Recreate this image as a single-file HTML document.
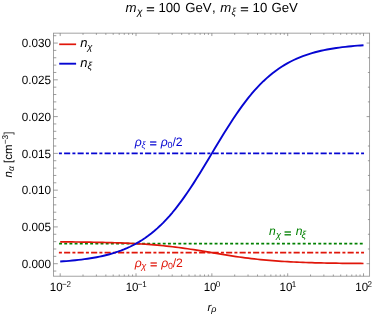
<!DOCTYPE html>
<html><head><meta charset="utf-8"><title>plot</title>
<style>
html,body{margin:0;padding:0;background:#fff;}
svg{display:block;will-change:transform}
text{font-family:"Liberation Sans",sans-serif;font-size:11.5px;fill:#000;text-rendering:geometricPrecision}
.i{font-style:italic}
.sub{font-size:8.6px;font-style:italic}
.sup{font-size:8.4px}
.tl{font-size:12px}
</style></head><body>
<svg width="374" height="316" viewBox="0 0 374 316">
<rect width="374" height="316" fill="#fff"/>
<!-- reference lines -->
<path d="M59.07 243.64 H364.02" stroke="#008000" stroke-width="1.7" stroke-dasharray="2.9 2.285" fill="none"/>
<path d="M58.90 252.67 H364.02" stroke="#e0160a" stroke-width="1.7" stroke-dasharray="3 2.2 6.1 2.2" fill="none"/>
<path d="M58.90 153.38 H364.02" stroke="#0606d2" stroke-width="1.7" stroke-dasharray="3 2.2 6.1 2.2" fill="none"/>
<!-- curves -->
<path d="M60.20 241.85 L63.23 241.87 L66.27 241.90 L69.30 241.92 L72.33 241.95 L75.37 241.98 L78.40 242.01 L81.43 242.05 L84.47 242.09 L87.50 242.13 L90.53 242.18 L93.57 242.23 L96.60 242.28 L99.63 242.34 L102.66 242.41 L105.70 242.48 L108.73 242.56 L111.76 242.64 L114.80 242.74 L117.83 242.84 L120.86 242.94 L123.90 243.06 L126.93 243.19 L129.96 243.33 L133.00 243.48 L136.03 243.64 L139.06 243.82 L142.10 244.00 L145.13 244.20 L148.16 244.42 L151.20 244.65 L154.23 244.90 L157.26 245.17 L160.30 245.45 L163.33 245.75 L166.36 246.06 L169.40 246.40 L172.43 246.75 L175.46 247.12 L178.49 247.51 L181.53 247.92 L184.56 248.34 L187.59 248.78 L190.63 249.23 L193.66 249.69 L196.69 250.17 L199.73 250.66 L202.76 251.15 L205.79 251.65 L208.83 252.16 L211.86 252.67 L214.89 253.18 L217.93 253.68 L220.96 254.18 L223.99 254.68 L227.03 255.16 L230.06 255.64 L233.09 256.11 L236.13 256.56 L239.16 257.00 L242.19 257.42 L245.23 257.82 L248.26 258.21 L251.29 258.58 L254.32 258.94 L257.36 259.27 L260.39 259.59 L263.42 259.89 L266.46 260.17 L269.49 260.43 L272.52 260.68 L275.56 260.91 L278.59 261.13 L281.62 261.33 L284.66 261.52 L287.69 261.69 L290.72 261.86 L293.76 262.01 L296.79 262.14 L299.82 262.27 L302.86 262.39 L305.89 262.50 L308.92 262.60 L311.96 262.69 L314.99 262.78 L318.02 262.86 L321.06 262.93 L324.09 262.99 L327.12 263.05 L330.15 263.11 L333.19 263.16 L336.22 263.21 L339.25 263.25 L342.29 263.29 L345.32 263.32 L348.35 263.36 L351.39 263.39 L354.42 263.41 L357.45 263.44 L360.49 263.46 L363.52 263.48" stroke="#e0160a" stroke-width="1.7" fill="none" stroke-linejoin="round"/>
<path d="M60.20 261.52 L63.23 261.31 L66.27 261.08 L69.30 260.83 L72.33 260.56 L75.37 260.26 L78.40 259.93 L81.43 259.57 L84.47 259.18 L87.50 258.76 L90.53 258.29 L93.57 257.79 L96.60 257.23 L99.63 256.63 L102.66 255.97 L105.70 255.25 L108.73 254.47 L111.76 253.62 L114.80 252.70 L117.83 251.69 L120.86 250.60 L123.90 249.42 L126.93 248.14 L129.96 246.76 L133.00 245.26 L136.03 243.64 L139.06 241.90 L142.10 240.02 L145.13 238.00 L148.16 235.83 L151.20 233.51 L154.23 231.03 L157.26 228.39 L160.30 225.57 L163.33 222.57 L166.36 219.40 L169.40 216.05 L172.43 212.52 L175.46 208.81 L178.49 204.93 L181.53 200.87 L184.56 196.65 L187.59 192.28 L190.63 187.76 L193.66 183.11 L196.69 178.34 L199.73 173.47 L202.76 168.52 L205.79 163.51 L208.83 158.45 L211.86 153.38 L214.89 148.30 L217.93 143.24 L220.96 138.23 L223.99 133.28 L227.03 128.41 L230.06 123.64 L233.09 118.99 L236.13 114.47 L239.16 110.10 L242.19 105.88 L245.23 101.82 L248.26 97.94 L251.29 94.23 L254.32 90.70 L257.36 87.35 L260.39 84.18 L263.42 81.18 L266.46 78.36 L269.49 75.72 L272.52 73.24 L275.56 70.92 L278.59 68.75 L281.62 66.73 L284.66 64.85 L287.69 63.11 L290.72 61.49 L293.76 59.99 L296.79 58.61 L299.82 57.33 L302.86 56.15 L305.89 55.06 L308.92 54.05 L311.96 53.13 L314.99 52.28 L318.02 51.50 L321.06 50.78 L324.09 50.12 L327.12 49.52 L330.15 48.96 L333.19 48.46 L336.22 47.99 L339.25 47.57 L342.29 47.18 L345.32 46.82 L348.35 46.49 L351.39 46.19 L354.42 45.92 L357.45 45.67 L360.49 45.44 L363.52 45.23" stroke="#0606d2" stroke-width="1.9" fill="none" stroke-linejoin="round"/>
<!-- frame -->
<rect x="53.5" y="33.15" width="316.1" height="243.04999999999998" fill="none" stroke="#939393" stroke-width="0.85"/>
<path d="M53.50 271.06 h2.80 M53.50 263.70 h4.30 M369.60 263.70 h-3.00 M53.50 256.34 h2.80 M53.50 248.99 h2.80 M369.60 248.99 h-1.70 M53.50 241.63 h2.80 M53.50 234.28 h2.80 M369.60 234.28 h-1.70 M53.50 226.92 h4.30 M53.50 219.57 h2.80 M369.60 219.57 h-1.70 M53.50 212.21 h2.80 M53.50 204.86 h2.80 M369.60 204.86 h-1.70 M53.50 197.50 h2.80 M53.50 190.15 h4.30 M369.60 190.15 h-3.00 M53.50 182.79 h2.80 M53.50 175.44 h2.80 M369.60 175.44 h-1.70 M53.50 168.08 h2.80 M53.50 160.73 h2.80 M369.60 160.73 h-1.70 M53.50 153.38 h4.30 M53.50 146.02 h2.80 M369.60 146.02 h-1.70 M53.50 138.66 h2.80 M53.50 131.31 h2.80 M369.60 131.31 h-1.70 M53.50 123.95 h2.80 M53.50 116.60 h4.30 M369.60 116.60 h-3.00 M53.50 109.24 h2.80 M53.50 101.89 h2.80 M369.60 101.89 h-1.70 M53.50 94.53 h2.80 M53.50 87.18 h2.80 M369.60 87.18 h-1.70 M53.50 79.82 h4.30 M53.50 72.47 h2.80 M369.60 72.47 h-1.70 M53.50 65.11 h2.80 M53.50 57.76 h2.80 M369.60 57.76 h-1.70 M53.50 50.40 h2.80 M53.50 43.05 h4.30 M369.60 43.05 h-3.00 M53.50 35.69 h2.80 M60.20 276.20 v-2.90 M60.20 33.15 v2.90 M83.03 276.20 v-1.70 M83.03 33.15 v1.70 M96.38 276.20 v-1.70 M96.38 33.15 v1.70 M105.85 276.20 v-1.70 M105.85 33.15 v1.70 M113.20 276.20 v-1.70 M113.20 33.15 v1.70 M119.21 276.20 v-1.70 M119.21 33.15 v1.70 M124.28 276.20 v-1.70 M124.28 33.15 v1.70 M128.68 276.20 v-1.70 M128.68 33.15 v1.70 M132.56 276.20 v-1.70 M132.56 33.15 v1.70 M136.03 276.20 v-2.90 M136.03 33.15 v2.90 M158.86 276.20 v-1.70 M158.86 33.15 v1.70 M172.21 276.20 v-1.70 M172.21 33.15 v1.70 M181.68 276.20 v-1.70 M181.68 33.15 v1.70 M189.03 276.20 v-1.70 M189.03 33.15 v1.70 M195.04 276.20 v-1.70 M195.04 33.15 v1.70 M200.11 276.20 v-1.70 M200.11 33.15 v1.70 M204.51 276.20 v-1.70 M204.51 33.15 v1.70 M208.39 276.20 v-1.70 M208.39 33.15 v1.70 M211.86 276.20 v-2.90 M211.86 33.15 v2.90 M234.69 276.20 v-1.70 M234.69 33.15 v1.70 M248.04 276.20 v-1.70 M248.04 33.15 v1.70 M257.51 276.20 v-1.70 M257.51 33.15 v1.70 M264.86 276.20 v-1.70 M264.86 33.15 v1.70 M270.87 276.20 v-1.70 M270.87 33.15 v1.70 M275.94 276.20 v-1.70 M275.94 33.15 v1.70 M280.34 276.20 v-1.70 M280.34 33.15 v1.70 M284.22 276.20 v-1.70 M284.22 33.15 v1.70 M287.69 276.20 v-2.90 M287.69 33.15 v2.90 M310.52 276.20 v-1.70 M310.52 33.15 v1.70 M323.87 276.20 v-1.70 M323.87 33.15 v1.70 M333.34 276.20 v-1.70 M333.34 33.15 v1.70 M340.69 276.20 v-1.70 M340.69 33.15 v1.70 M346.70 276.20 v-1.70 M346.70 33.15 v1.70 M351.77 276.20 v-1.70 M351.77 33.15 v1.70 M356.17 276.20 v-1.70 M356.17 33.15 v1.70 M360.05 276.20 v-1.70 M360.05 33.15 v1.70 M363.52 276.20 v-2.90 M363.52 33.15 v2.90" stroke="#747474" stroke-width="0.7" fill="none"/>
<!-- legend -->
<path d="M59.2 44.3 H76.1" stroke="#e0160a" stroke-width="1.7"/>
<path d="M59.2 63.7 H76.1" stroke="#0606d2" stroke-width="1.9"/>
<text style="font-size:13px"><tspan x="80.20" y="47.30" class="i">n</tspan><tspan x="87.30" y="50.10" style="font-size:9.4px;font-style:italic">χ</tspan></text><text style="font-size:13px"><tspan x="80.20" y="66.70" class="i">n</tspan><tspan x="87.50" y="69.40" style="font-size:10.2px;font-style:italic">ξ</tspan></text>
<!-- annotations -->
<text style="font-size:12.2px;fill:#0606d2"><tspan x="134.80" y="145.80" class="i">ρ</tspan><tspan x="141.40" y="148.10" style="font-size:9px;font-style:italic">ξ</tspan><tspan x="160.80" y="145.80" class="i">ρ</tspan><tspan x="167.60" y="148.20" style="font-size:8.9px">0</tspan><tspan x="172.40" y="145.80">/</tspan><tspan x="175.70" y="145.80">2</tspan></text><text transform="translate(153.20 146.71) scale(1.040 0.900)" text-anchor="middle" style="font-size:12.2px;stroke-width:0.08px;stroke:#0606d2;fill:#0606d2">=</text>
<text style="font-size:12.2px;fill:#e0160a"><tspan x="134.80" y="266.70" class="i">ρ</tspan><tspan x="141.20" y="269.00" style="font-size:9.3px;font-style:italic">χ</tspan><tspan x="161.20" y="266.70" class="i">ρ</tspan><tspan x="168.00" y="269.10" style="font-size:8.9px">0</tspan><tspan x="172.80" y="266.70">/</tspan><tspan x="176.10" y="266.70">2</tspan></text><text transform="translate(153.60 267.61) scale(1.040 0.900)" text-anchor="middle" style="font-size:12.2px;stroke-width:0.08px;stroke:#e0160a;fill:#e0160a">=</text>
<text style="font-size:12.2px;fill:#008000"><tspan x="269.00" y="235.40" class="i">n</tspan><tspan x="275.90" y="237.90" style="font-size:9.3px;font-style:italic">χ</tspan><tspan x="295.70" y="235.40" class="i">n</tspan><tspan x="301.50" y="238.20" style="font-size:10.2px;font-style:italic">ξ</tspan></text><text transform="translate(287.90 236.86) scale(1.060 0.900)" text-anchor="middle" style="font-size:12.2px;stroke-width:0.08px;stroke:#008000;fill:#008000">=</text>
<!-- title -->
<text style="font-size:13.2px"><tspan x="125.60" y="12.10" class="i">m</tspan><tspan x="137.00" y="14.60" style="font-size:10px;font-style:italic">χ</tspan><tspan x="158.40" y="12.10">100</tspan><tspan x="185.20" y="12.10">GeV</tspan><tspan x="212.10" y="12.10">,</tspan><tspan x="220.20" y="12.10" class="i">m</tspan><tspan x="231.50" y="14.60" style="font-size:10px;font-style:italic">ξ</tspan><tspan x="252.60" y="12.10">10</tspan><tspan x="271.40" y="12.10">GeV</tspan></text><text transform="translate(150.45 13.22) scale(1.100 0.880)" text-anchor="middle" style="font-size:13.2px;stroke-width:0.2px;stroke:#000">=</text><text transform="translate(244.45 13.22) scale(1.100 0.880)" text-anchor="middle" style="font-size:13.2px;stroke-width:0.2px;stroke:#000">=</text>
<!-- tick labels -->
<text transform="translate(51.1 268.00) scale(0.975 1)" text-anchor="end" class="tl">0.000</text>
<text transform="translate(51.1 231.22) scale(0.975 1)" text-anchor="end" class="tl">0.005</text>
<text transform="translate(51.1 194.45) scale(0.975 1)" text-anchor="end" class="tl">0.010</text>
<text transform="translate(51.1 157.68) scale(0.975 1)" text-anchor="end" class="tl">0.015</text>
<text transform="translate(51.1 120.90) scale(0.975 1)" text-anchor="end" class="tl">0.020</text>
<text transform="translate(51.1 84.12) scale(0.975 1)" text-anchor="end" class="tl">0.025</text>
<text transform="translate(51.1 47.35) scale(0.975 1)" text-anchor="end" class="tl">0.030</text>
<text transform="translate(60.20 290.9) scale(0.96 1)" text-anchor="middle" class="tl">10<tspan class="sup" dx="-0.7" dy="-4.0" style="letter-spacing:-0.3px">−2</tspan></text>
<text transform="translate(136.03 290.9) scale(0.96 1)" text-anchor="middle" class="tl">10<tspan class="sup" dx="-0.7" dy="-4.0" style="letter-spacing:-0.3px">−1</tspan></text>
<text transform="translate(211.86 290.9) scale(0.96 1)" text-anchor="middle" class="tl">10<tspan class="sup" dx="-0.7" dy="-4.0" style="letter-spacing:-0.3px">0</tspan></text>
<text transform="translate(287.69 290.9) scale(0.96 1)" text-anchor="middle" class="tl">10<tspan class="sup" dx="-0.7" dy="-4.0" style="letter-spacing:-0.3px">1</tspan></text>
<text transform="translate(363.52 290.9) scale(0.96 1)" text-anchor="middle" class="tl">10<tspan class="sup" dx="-0.7" dy="-4.0" style="letter-spacing:-0.3px">2</tspan></text>
<!-- axis labels -->
<text x="207.5" y="310.7"><tspan class="i">r</tspan><tspan class="sub" style="font-size:9px" dy="1.4">ρ</tspan></text>
<text transform="translate(12.1 177.4) rotate(-90)"><tspan class="i">n</tspan><tspan class="sub" dy="2.3">α</tspan><tspan dy="-2.3"> [cm</tspan><tspan class="sup" dy="-4.2">−3</tspan><tspan dy="4.2">]</tspan></text>
</svg>
</body></html>
